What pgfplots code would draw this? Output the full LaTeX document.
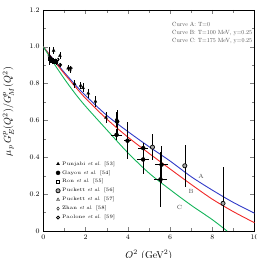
\documentclass[border=0pt]{standalone}
\usepackage{pgfplots}
\pgfplotsset{compat=1.18}
\usetikzlibrary{calc}
\definecolor{cA}{RGB}{50,60,200}
\definecolor{cB}{RGB}{240,40,40}
\definecolor{cC}{RGB}{20,180,90}
\begin{document}
\begin{tikzpicture}
\begin{axis}[
  width=211.5pt, height=221.5pt, scale only axis,
  xmin=0, xmax=10, ymin=0, ymax=1.2,
  xtick={0,2,4,6,8,10},
  ytick={0,0.2,0.4,0.6,0.8,1.0,1.2},
  yticklabels={0,0.2,0.4,0.6,0.8,1.0,1.2},
  minor x tick num=1, minor y tick num=1,
  tick label style={font=\fontsize{7}{8}\selectfont},
  xlabel={$Q^2$ (GeV$^2$)},
  ylabel={$\mu_p\, G_E^p(Q^2)/G_M^p(Q^2)$},
  label style={font=\fontsize{8.5}{10}\selectfont},
  every axis x label/.style={at={(axis description cs:0.5,-0.11)}, anchor=center},
  every axis y label/.style={at={(axis description cs:-0.165,0.54)}, rotate=90, anchor=center},
  clip=true,
  legend style={at={(axis description cs:0.045,0.03)}, anchor=south west, draw=none, fill=none,
    font=\fontsize{5}{6}\selectfont, row sep=-0.3pt},
  legend cell align=left,
  error bars/error bar style={line width=0.5pt},
]
% model curves
\addplot[cA, line width=0.9pt, smooth, forget plot] coordinates {
(0,1)(0.5,0.928)(1,0.86)(1.5,0.795)(2,0.735)(3,0.628)(4,0.54)(5,0.458)(6,0.38)(7,0.295)(8,0.222)(9,0.155)(10,0.097)};
\addplot[cB, line width=0.9pt, smooth, forget plot] coordinates {
(0,1)(0.5,0.925)(1,0.853)(1.5,0.785)(2,0.72)(3,0.608)(4,0.51)(5,0.422)(6,0.337)(7,0.253)(8,0.173)(9,0.105)(10,0.045)};
\addplot[cC, line width=0.9pt, smooth, forget plot] coordinates {
(0,1)(0.5,0.91)(1,0.825)(1.5,0.747)(2,0.677)(3,0.55)(4,0.425)(5,0.315)(6,0.225)(7,0.14)(8,0.062)(8.7,0)};
% Punjabi
\addplot[black, only marks, mark=triangle*, mark size=1.7pt,
  error bars/.cd, y dir=both, y explicit, error mark=none] table[x=x, y=y, y error=ey] {
x y ey
0.49 0.979 0.02
0.79 0.951 0.02
1.18 0.883 0.015
1.48 0.798 0.02
1.77 0.789 0.02
1.88 0.777 0.025
2.13 0.747 0.025
2.47 0.703 0.03
2.97 0.615 0.03
3.47 0.606 0.04
};
\addlegendentry{Punjabi \textit{et al.} [53]}
% Gayou
\addplot[black, only marks, mark=*, mark size=2.0pt,
  error bars/.cd, y dir=both, y explicit, x dir=both, x explicit, error mark=none] table[x=x, y=y, x error=ex, y error=ey] {
x y ex ey
3.50 0.594 0.0 0.06
3.99 0.490 0.15 0.10
4.73 0.388 0.27 0.08
5.55 0.280 0.30 0.15
};
\addlegendentry{Gayou \textit{et al.} [54]}
% Ron
\addplot[black, only marks, mark=square, mark size=1.4pt, line width=0.6pt,
  error bars/.cd, y dir=both, y explicit, error mark=none] table[x=x, y=y, y error=ey] {
x y ey
0.30 0.935 0.012
0.35 0.928 0.012
0.40 0.925 0.012
0.50 0.920 0.015
0.62 0.918 0.015
};
\addlegendentry{Ron \textit{et al.} [55]}
% Puckett 56
\addplot[black, only marks, mark=*, mark size=2.1pt, mark options={fill=gray!70, line width=0.7pt},
  error bars/.cd, y dir=both, y explicit, error mark=none] table[x=x, y=y, y error=ey] {
x y ey
5.17 0.455 0.07
6.70 0.354 0.115
8.51 0.150 0.20
};
\addlegendentry{Puckett \textit{et al.} [56]}
% Puckett 57
\addplot[black, only marks, mark=triangle, mark size=1.7pt,
  error bars/.cd, y dir=both, y explicit, error mark=none] table[x=x, y=y, y error=ey] {
x y ey
0.63 0.920 0.015
1.26 0.873 0.015
};
\addlegendentry{Puckett \textit{et al.} [57]}
% Zhan
\addplot[black, only marks, mark=diamond, mark size=1.7pt,
  error bars/.cd, y dir=both, y explicit, error mark=none] table[x=x, y=y, y error=ey] {
x y ey
0.28 0.950 0.05
0.35 0.940 0.01
0.45 0.930 0.01
0.57 0.925 0.01
0.70 0.930 0.01
};
\addlegendentry{Zhan \textit{et al.} [58]}
% Paolone
\addplot[black, only marks, mark=o, mark size=1.5pt, line width=0.8pt,
  error bars/.cd, y dir=both, y explicit, error mark=none] table[x=x, y=y, y error=ey] {
x y ey
0.80 0.901 0.01
1.30 0.884 0.012
};
\addlegendentry{Paolone \textit{et al.} [59]}
% error crosses without marker
\addplot[black, only marks, mark=none, forget plot,
  error bars/.cd, y dir=both, y explicit, x dir=both, x explicit, error mark=none] table[x=x, y=y, x error=ex, y error=ey] {
x y ex ey
3.47 0.522 0.25 0.03
4.73 0.450 0.25 0.03
5.60 0.360 0.32 0.10
};
\node[font=\fontsize{6}{7}\selectfont, gray!60!black] at (axis cs:7.47,0.295) {A};
\node[font=\fontsize{6}{7}\selectfont, gray!60!black] at (axis cs:7.0,0.215) {B};
\node[font=\fontsize{6}{7}\selectfont, gray!60!black] at (axis cs:6.45,0.13) {C};
\node[anchor=west, align=left, inner sep=0pt, scale=0.6, font=\fontsize{10}{13.3}\selectfont, gray!60!black] at (axis cs:6.1,1.075)
  {Curve A: T=0\\Curve B: T=100 MeV, y=0.25\\Curve C: T=175 MeV, y=0.25};
\end{axis}
\pgfresetboundingbox
\path ($(current axis.south west)+(-43.3pt,-27pt)$) rectangle ($(current axis.north east)+(2.2pt,9.8pt)$);
\end{tikzpicture}
\end{document}
